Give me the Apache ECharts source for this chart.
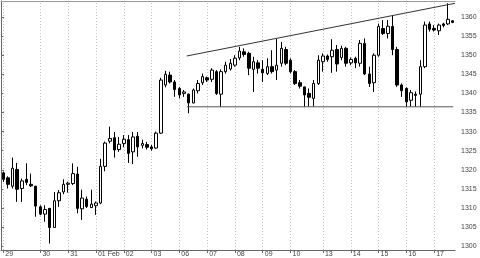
<!DOCTYPE html>
<html><head><meta charset="utf-8">
<script src="https://cdn.jsdelivr.net/npm/echarts@6/dist/echarts.min.js"></script>
<style>html,body{margin:0;padding:0;background:#fff}#c{width:480px;height:258px}</style>
</head><body><div id="c"></div>
<script>
// Day labels and number of candles in each day
const dayLabels = ['29','30','31','01 Feb','02','03','06','07','08','09','10','13','14','15','16','17'];
const dayCounts = [8,6,6,6,6,6,6,6,6,6,7,6,6,6,6,5];
// Candle values
const openP = [1319.2,1317.9,1315.7,1320.1,1315.1,1317.5,1316.2,1315.7,1310.3,1308.4,
1309.9,1304.9,1311.9,1314.2,1316.2,1316.4,1318.9,1309.8,1312.3,1310.1,
1310.6,1311.3,1320.9,1327.5,1328.4,1325.3,1326.9,1327.9,1324.7,1328.8,
1326.4,1326.6,1326.0,1325.7,1329.6,1342.2,1344.8,1343.0,1341.3,1340.0,
1339.8,1337.5,1340.7,1342.8,1344.1,1343.7,1345.7,1339.8,1345.7,1346.4,
1347.4,1349.3,1350.9,1350.5,1346.3,1348.0,1346.3,1345.2,1347.0,1346.1,
1347.9,1351.5,1348.7,1345.7,1342.8,1341.7,1340.0,1338.7,1342.6,1348.3,
1349.8,1349.6,1351.5,1349.4,1351.8,1348.0,1349.2,1347.9,1353.1,1345.1,
1342.8,1350.0,1357.0,1355.7,1357.5,1351.5,1342.2,1341.3,1338.2,1339.8,
1339.8,1347.0,1358.2,1357.0,1356.4,1358.2,1358.2,1359.0];
const closeP = [1317.5,1316.2,1320.4,1314.9,1317.1,1316.7,1315.8,1310.5,1308.4,1309.6,
1304.9,1311.9,1314.0,1316.2,1316.5,1319.0,1309.9,1312.6,1310.4,1311.0,
1311.3,1320.9,1327.0,1328.2,1325.2,1326.7,1328.0,1324.3,1328.6,1326.0,
1326.9,1325.9,1325.5,1329.6,1343.5,1345.0,1343.0,1341.0,1339.6,1340.4,
1337.5,1340.9,1342.6,1344.4,1343.5,1346.1,1340.0,1345.7,1347.4,1347.9,
1349.2,1351.1,1350.2,1346.6,1348.3,1346.6,1345.4,1347.0,1345.7,1347.4,
1351.8,1347.9,1345.7,1342.6,1341.9,1339.6,1339.0,1342.6,1348.7,1349.8,
1348.9,1351.3,1347.7,1351.8,1347.9,1348.9,1348.0,1353.1,1345.1,1342.6,
1350.0,1357.5,1355.7,1357.6,1351.5,1342.2,1340.7,1337.8,1340.2,1339.5,
1347.0,1357.9,1356.8,1356.6,1357.9,1357.8,1359.4,1358.6];
const lowP = [1316.8,1315.1,1315.1,1311.6,1311.6,1316.0,1315.5,1307.7,1308.1,1306.4,
1300.7,1304.8,1310.3,1313.6,1314.0,1316.0,1308.6,1306.9,1310.0,1310.0,
1308.2,1311.0,1319.6,1326.9,1323.2,1324.7,1325.9,1321.8,1321.5,1323.4,
1325.6,1325.3,1325.0,1325.5,1329.4,1341.6,1342.6,1339.1,1338.7,1339.1,
1334.8,1337.4,1340.0,1342.2,1343.0,1343.0,1339.6,1336.5,1345.2,1346.0,
1347.0,1348.7,1349.6,1344.8,1340.4,1345.2,1343.0,1344.8,1345.2,1343.5,
1347.0,1347.4,1345.2,1342.2,1341.3,1336.4,1336.5,1336.5,1342.2,1345.7,
1348.3,1345.4,1345.7,1348.7,1347.0,1347.4,1346.6,1347.0,1344.8,1341.7,
1340.4,1349.6,1355.3,1354.4,1350.0,1341.7,1339.1,1336.4,1336.5,1336.5,
1336.5,1346.6,1356.2,1356.2,1355.3,1357.3,1357.9,1358.4];
const highP = [1319.5,1318.3,1323.2,1321.8,1317.7,1321.7,1319.0,1315.8,1310.7,1310.7,
1310.0,1314.2,1314.7,1317.5,1316.9,1321.7,1320.8,1314.8,1313.0,1314.8,
1311.7,1322.9,1327.4,1331.3,1329.9,1328.6,1329.1,1329.1,1329.9,1329.9,
1327.9,1327.3,1326.5,1330.0,1344.1,1345.9,1345.7,1343.5,1341.7,1340.9,
1340.0,1341.3,1343.5,1345.2,1344.4,1346.6,1346.1,1346.3,1348.3,1349.0,
1350.0,1352.2,1351.8,1350.9,1349.6,1348.7,1348.7,1349.2,1351.3,1354.4,
1353.5,1352.2,1349.2,1346.1,1343.5,1341.8,1341.3,1343.5,1350.0,1350.5,
1350.2,1354.2,1352.7,1352.5,1352.2,1349.4,1349.6,1354.0,1354.4,1347.0,
1350.5,1358.3,1359.2,1359.2,1360.5,1352.2,1342.6,1341.6,1340.9,1340.5,
1348.7,1358.8,1358.8,1357.9,1358.3,1358.5,1363.6,1359.2];
// Y tick labels
const yTicks = [1300,1305,1310,1315,1320,1325,1330,1335,1340,1345,1350,1355,1360];
// Trend lines: [candle position, price]
const upperTrend = [[40.1,1349.8],[98.0,1363.6]];
const lowerTrend = [[40.1,1336.5],[97.6,1336.5]];

const categories = [];
const dayStartNames = [];
dayLabels.forEach((d, di) => {
  for (let k = 0; k < dayCounts[di]; k++) {
    const name = d + '#' + k;
    categories.push(name);
    if (k === 0) dayStartNames.push(name);
  }
});
const N = categories.length;
const candles = openP.map((o, i) => [o, closeP[i], lowP[i], highP[i]]);
const isStart = (idx, val) => String(val).endsWith('#0');
const font = 'Liberation Sans';

const chart = echarts.init(document.getElementById('c'), null, {renderer: 'canvas'});
chart.setOption({
  animation: false,
  backgroundColor: '#fff',
  grid: {left: 1, right: 25, top: 1, bottom: 8, containLabel: false},
  xAxis: [{
    type: 'category', data: categories, boundaryGap: true, position: 'bottom',
    axisLine: {show: true, lineStyle: {color: '#666', width: 1}},
    axisTick: {show: true, alignWithLabel: true, interval: isStart, length: 3, lineStyle: {color: '#666'}},
    axisLabel: {show: true, interval: isStart, align: 'left', padding: [0,0,0,2], margin: 1,
      formatter: v => v.split('#')[0], fontFamily: font, fontSize: 7, color: '#444'},
    splitLine: {show: false}
  }, {
    type: 'value', min: 0, max: N, position: 'top',
    axisLine: {show: true, onZero: false, lineStyle: {color: '#999', width: 1}},
    axisTick: {show: false}, axisLabel: {show: false}, splitLine: {show: false}
  }],
  yAxis: {
    type: 'value', position: 'right', min: 1299, max: 1364.2, scale: true,
    axisLine: {show: true, lineStyle: {color: '#666', width: 1}},
    axisTick: {show: true, customValues: yTicks, length: 3, lineStyle: {color: '#666'}},
    axisLabel: {show: true, customValues: yTicks, margin: 6, formatter: v => String(v),
      fontFamily: font, fontSize: 7, color: '#444'},
    splitLine: {show: false}
  },
  series: [{
    type: 'candlestick', data: candles, barWidth: 3,
    itemStyle: {color: '#fff', color0: '#000', borderColor: '#000', borderColor0: '#000', borderWidth: 1},
    markLine: {
      silent: true, symbol: ['none','none'], label: {show: false}, z: 1,
      lineStyle: {type: [1,2], color: '#c0c0c0', width: 1},
      data: dayStartNames.map(n => ({xAxis: n}))
    }
  }, {
    type: 'line', xAxisIndex: 1, data: upperTrend, symbol: 'none', silent: true,
    lineStyle: {color: '#333', width: 1}
  }, {
    type: 'line', xAxisIndex: 1, data: lowerTrend, symbol: 'none', silent: true,
    lineStyle: {color: '#555', width: 1}
  }]
});
</script></body></html>
